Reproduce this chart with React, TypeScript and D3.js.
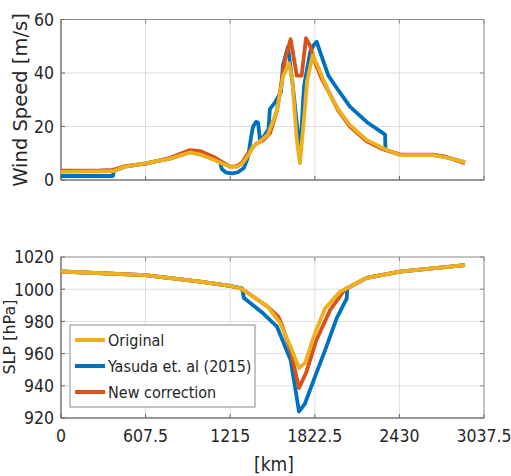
import React from "react"
import * as d3 from "d3"

const width = 511
const height = 476

// km positions of the x ticks
const xTicks = [0, 607.5, 1215, 1822.5, 2430, 3037.5]
const windTicks = [0, 20, 40, 60]
const slpTicks = [920, 940, 960, 980, 1000, 1020]

const seriesNames = ["Original", "Yasuda et. al (2015)", "New correction"]
const seriesColors = ["#EDB120", "#0072BD", "#D95319"]

// [km, m/s]
const originalWind: [number, number][] = [
  [0, 3], [280, 3.2], [373, 3.3], [460, 5], [603, 6.2], [783, 8], [926, 10.3], [1000, 9.5],
  [1100, 7.5], [1156, 6.2], [1214, 5], [1264, 4.9], [1300, 6], [1343, 9], [1379, 12.5],
  [1430, 14.5], [1486, 17], [1551, 26], [1594, 38.5], [1637, 43.7], [1660, 38], [1693, 15],
  [1716, 6.3], [1740, 20], [1752, 27], [1767, 37], [1807, 46.7], [1840, 43], [1880, 38],
  [1932, 32], [1990, 26.5], [2075, 20.5], [2195, 15], [2312, 11.9], [2434, 9.3], [2671, 9.3],
  [2760, 8.5], [2901, 6.7]
]
const yasudaWind: [number, number][] = [
  [0, 1.5], [373, 1.5], [380, 3.5], [460, 5], [603, 6.2], [783, 8], [926, 10.5], [1000, 9.6],
  [1100, 7.8], [1140, 6.8], [1156, 4], [1185, 2.8], [1230, 2.5], [1270, 2.9], [1314, 4.5],
  [1343, 8.6], [1365, 16], [1379, 20], [1400, 21.7], [1415, 21.5], [1429, 15], [1460, 16.5],
  [1490, 19], [1500, 26.5], [1537, 29], [1580, 33], [1594, 43], [1630, 49.8], [1665, 35],
  [1716, 10], [1745, 35], [1790, 48], [1815, 50.5], [1836, 51.7], [1860, 48], [1920, 39],
  [1980, 34.4], [2075, 27.4], [2195, 21.7], [2312, 17.5], [2327, 17], [2330, 11.2],
  [2434, 9.5], [2671, 9.4], [2760, 8.6], [2901, 6.6]
]
const newWind: [number, number][] = [
  [0, 3.5], [280, 3.6], [373, 3.8], [460, 5.2], [603, 6], [783, 8.3], [926, 11.2], [1000, 10.8],
  [1100, 8.5], [1156, 6.8], [1214, 5], [1264, 5.2], [1300, 6.5], [1343, 10], [1400, 13.5],
  [1451, 14.8], [1501, 17.5], [1551, 26], [1609, 45], [1649, 52.6], [1693, 39], [1728, 39],
  [1759, 53], [1790, 50], [1824, 44], [1870, 38], [1932, 32], [1990, 26], [2075, 20],
  [2195, 14.5], [2312, 11.5], [2434, 9.6], [2671, 9.5], [2760, 8.7], [2901, 6.3]
]

// [km, hPa]
const originalSlp: [number, number][] = [
  [0, 1011], [603, 1008.8], [998, 1004.7], [1214, 1002], [1290, 1000.5], [1343, 997.6],
  [1486, 989], [1573, 979], [1649, 964.3], [1709, 951], [1752, 954], [1824, 972.8],
  [1896, 988], [2004, 998.5], [2075, 1001.5], [2195, 1007], [2434, 1010.9], [2901, 1015]
]
const yasudaSlp: [number, number][] = [
  [0, 1011], [603, 1008.8], [998, 1004.7], [1214, 1002], [1300, 1000.5], [1314, 994.5],
  [1451, 985], [1551, 976.7], [1649, 956], [1709, 924], [1752, 929], [1824, 945.7],
  [1896, 962], [1980, 982], [2052, 994.3], [2055, 1000.5], [2195, 1007], [2434, 1010.9], [2901, 1015]
]
const newSlp: [number, number][] = [
  [0, 1011], [603, 1008.8], [998, 1004.7], [1214, 1002], [1290, 1000.5], [1343, 997.6],
  [1486, 989], [1560, 983], [1585, 978], [1649, 962], [1709, 938.6], [1760, 948],
  [1832, 968], [1932, 987], [2040, 1000], [2075, 1001.5], [2195, 1007], [2434, 1010.9], [2901, 1015]
]

const font = "'DejaVu Sans Condensed', 'DejaVu Sans', sans-serif"
const labelFont = "'DejaVu Sans', sans-serif"
const axisColor = "#262626"
const gridColor = "#dedede"

const x = d3.scaleLinear().domain([0, 3037.5]).range([61, 484])
const yWind = d3.scaleLinear().domain([0, 60]).range([180, 19.5])
const ySlp = d3.scaleLinear().domain([920, 1020]).range([418, 257])

function Panel({ y, series, ticks, showX }: { y: d3.ScaleLinear<number, number>, series: [number, number][][], ticks: number[], showX: boolean }) {
  const [x0, x1] = x.range()
  const [yb, yt] = y.range()
  const line = d3.line<[number, number]>().x(d => x(d[0])).y(d => y(d[1]))
  const order = [1, 2, 0]
  return (
    <g>
      {xTicks.slice(1, -1).map(t => (
        <line key={"gx" + t} x1={x(t)} x2={x(t)} y1={yb} y2={yt} stroke={gridColor} strokeWidth={1} />
      ))}
      {ticks.slice(1, -1).map(t => (
        <line key={"gy" + t} x1={x0} x2={x1} y1={y(t)} y2={y(t)} stroke={gridColor} strokeWidth={1} />
      ))}
      <rect x={x0} y={yt} width={x1 - x0} height={yb - yt} fill="none" stroke="#8a8a8a" strokeWidth={1} />
      <line x1={x0} x2={x0} y1={yb} y2={yt} stroke="#6a6a6a" />
      <line x1={x0} x2={x1} y1={yb} y2={yb} stroke="#6a6a6a" />
      {xTicks.map(t => (
        <g key={"tx" + t}>
          <line x1={x(t)} x2={x(t)} y1={yb} y2={yb - 4} stroke="#6a6a6a" />
          <line x1={x(t)} x2={x(t)} y1={yt} y2={yt + 4} stroke="#8a8a8a" />
          {showX && (
            <text x={x(t)} y={yb + 24} textAnchor="middle" fontSize={17.5} fill={axisColor} fontFamily={font}>{t}</text>
          )}
        </g>
      ))}
      {ticks.map(t => (
        <g key={"ty" + t}>
          <line x1={x0} x2={x0 + 4} y1={y(t)} y2={y(t)} stroke="#6a6a6a" />
          <line x1={x1} x2={x1 - 4} y1={y(t)} y2={y(t)} stroke="#8a8a8a" />
          <text x={x0 - 7} y={y(t)} dy="0.36em" textAnchor="end" fontSize={17.5} fill={axisColor} fontFamily={font}>{t}</text>
        </g>
      ))}
      {order.map(i => (
        <path key={"s" + i} d={line(series[i]) || ""} fill="none" stroke={seriesColors[i]} strokeWidth={3.8} strokeLinejoin="round" />
      ))}
    </g>
  )
}

function App() {
  const rowY = d3.scaleBand<number>().domain([0, 1, 2]).range([327, 405])
  return (
    <svg width={width} height={height} style={{ position: "absolute", left: 0, top: 0, background: "#fff" }}>
      <rect width={width} height={height} fill="#fff" />
      <Panel y={yWind} series={[originalWind, yasudaWind, newWind]} ticks={windTicks} showX={false} />
      <Panel y={ySlp} series={[originalSlp, yasudaSlp, newSlp]} ticks={slpTicks} showX={true} />
      <text transform="translate(27,100) rotate(-90)" textAnchor="middle" fontSize={19.5} fill={axisColor} fontFamily={labelFont}>Wind Speed [m/s]</text>
      <text transform="translate(15,337) rotate(-90)" textAnchor="middle" fontSize={16} fill={axisColor} fontFamily={labelFont}>SLP [hPa]</text>
      <text x={274} y={471} textAnchor="middle" fontSize={19} fill={axisColor} fontFamily={font}>[km]</text>
      <g>
        <rect x={70} y={325} width={185} height={82} fill="#fff" stroke="#8a8a8a" />
        {seriesNames.map((n, i) => {
          const cy = rowY(i)! + rowY.bandwidth() / 2
          return (
            <g key={n}>
              <line x1={75} x2={105} y1={cy} y2={cy} stroke={seriesColors[i]} strokeWidth={4} />
              <text x={108} y={cy} dy="0.36em" fontSize={16} fill={axisColor} fontFamily={font}>{n}</text>
            </g>
          )
        })}
      </g>
    </svg>
  )
}

export default App
